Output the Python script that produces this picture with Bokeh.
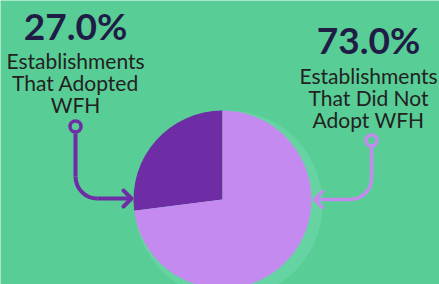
import numpy as np
from bokeh.plotting import figure
from bokeh.models import Range1d
from bokeh.core.properties import value
from bokeh.embed import file_html
from bokeh.resources import INLINE

# ---- data ----
categories = ["Establishments That Adopted WFH", "Establishments That Did Not Adopt WFH"]
shares = [27.0, 73.0]
pct_labels = ["27.0%", "73.0%"]
label_lines = [["Establishments", "That Adopted", "WFH"],
               ["Establishments", "That Did Not", "Adopt WFH"]]
slice_colors = ["#6E2CA5", "#C48AF0"]

BG = "#59CD96"
RING = "#66D4A2"
NAVY = "#1F1D45"
TXT = "#222222"

W, H = 439, 284


def Y(y):
    return H - y


p = figure(width=W, height=H, output_backend="svg", toolbar_location=None,
           x_range=Range1d(0, W), y_range=Range1d(0, H),
           min_border=0, match_aspect=False)
p.axis.visible = False
p.grid.visible = False
p.outline_line_color = None
p.background_fill_color = BG
p.border_fill_color = BG

# pie
cx, cy, r = 222, 199, 89
p.circle(x=[cx + 6], y=[Y(cy + 5)], radius=94, fill_color=RING, line_color=None)
fr = np.array(shares) / sum(shares)
ends = np.pi / 2 + 2 * np.pi * np.cumsum(fr)
starts = np.concatenate([[np.pi / 2], ends[:-1]])
p.wedge(x=cx, y=Y(cy), radius=r, start_angle=starts, end_angle=ends,
        fill_color=slice_colors, line_color=None)


def connector(mx, my, ytop_curve, yh, tip, direction, color, lw):
    rad = yh - ytop_curve
    p.line([mx, mx], [Y(my + 7), Y(ytop_curve)], line_color=color, line_width=lw)
    if direction > 0:
        ccx = mx + rad
        p.arc(x=ccx, y=Y(ytop_curve), radius=rad, start_angle=np.pi, end_angle=1.5 * np.pi,
              line_color=color, line_width=lw)
        p.line([ccx, tip], [Y(yh), Y(yh)], line_color=color, line_width=lw)
        p.line([tip - 8, tip, tip - 8], [Y(yh - 8), Y(yh), Y(yh + 8)],
               line_color=color, line_width=lw, line_cap="round", line_join="round")
    else:
        ccx = mx - rad
        p.arc(x=ccx, y=Y(ytop_curve), radius=rad, start_angle=1.5 * np.pi, end_angle=2 * np.pi,
              line_color=color, line_width=lw)
        p.line([ccx, tip], [Y(yh), Y(yh)], line_color=color, line_width=lw)
        p.line([tip + 8, tip, tip + 8], [Y(yh - 8), Y(yh), Y(yh + 8)],
               line_color=color, line_width=lw, line_cap="round", line_join="round")
    p.scatter(x=[mx], y=[Y(my)], size=11, marker="circle", fill_color=BG,
              line_color=color, line_width=3.5)


connector(75, 126, 176, 198, 131, 1, slice_colors[0], 4)
connector(371, 140, 178, 199, 314, -1, slice_colors[1], 3.5)

# texts (y positions tuned for Bokeh's baseline handling)
text_x = [75, 368]
pct_y = [25, 39]
line_y0 = [60, 75]
for i in range(2):
    p.text(x=[text_x[i]], y=[Y(pct_y[i])], text=[pct_labels[i]],
           text_font=value("Lato"), text_font_style="bold", text_font_size="37px",
           text_color=NAVY, text_align="center", text_baseline="alphabetic")
    for j, ln in enumerate(label_lines[i]):
        p.text(x=[text_x[i]], y=[Y(line_y0[i] + 22 * j)], text=[ln],
               text_font=value("Lato"), text_font_size="21px",
               text_color=TXT, text_align="center", text_baseline="alphabetic")

open("out.html", "w").write(file_html(p, INLINE))
